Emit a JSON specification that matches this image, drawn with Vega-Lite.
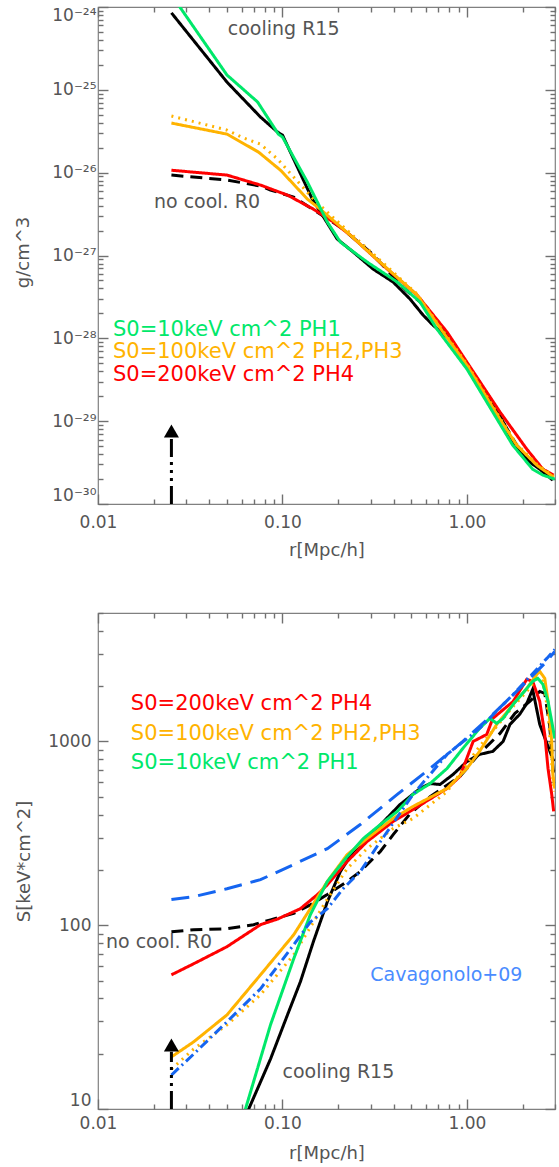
{
  "$schema": "https://vega.github.io/schema/vega-lite/v6.json",
  "padding": {"left": 13, "top": 5, "right": 4, "bottom": 4},
  "spacing": 109,
  "bounds": "flush",
  "config": {
    "view": {"stroke": "#808080", "strokeWidth": 1.2},
    "axis": {"grid": false, "domain": false, "ticks": true, "tickColor": "#707070", "tickOpacity": 1, "tickWidth": 1.4, "zindex": 1, "labelColor": "#555555", "titleColor": "#555555", "labelFont": "DejaVu Sans", "labelFontSize": 17, "titleFont": "DejaVu Sans", "titleFontSize": 18, "titleFontWeight": "normal", "labelOverlap": false, "labelFlush": false},
    "text": {"font": "DejaVu Sans"}
  },
  "datasets": {
    "rho": [
      {"series":"R15","r":0.025,"v":8.5e-25},{"series":"R15","r":0.05,"v":1.24e-25},{"series":"R15","r":0.076,"v":4.69e-26},{"series":"R15","r":0.094,"v":3.09e-26},{"series":"R15","r":0.1,"v":2.84e-26},{"series":"R15","r":0.145,"v":4.8e-27},{"series":"R15","r":0.167,"v":2.91e-27},{"series":"R15","r":0.198,"v":1.58e-27},{"series":"R15","r":0.242,"v":1.1e-27},{"series":"R15","r":0.31,"v":6.85e-28},{"series":"R15","r":0.398,"v":4.78e-28},{"series":"R15","r":0.492,"v":2.97e-28},{"series":"R15","r":0.578,"v":1.91e-28},{"series":"R15","r":0.655,"v":1.44e-28},{"series":"R15","r":0.84,"v":9.0e-29},{"series":"R15","r":1.0,"v":4.74e-29},{"series":"R15","r":1.22,"v":2.43e-29},{"series":"R15","r":1.51,"v":1.18e-29},{"series":"R15","r":1.77,"v":5.57e-30},{"series":"R15","r":2.19,"v":3.2e-30},{"series":"R15","r":2.48,"v":2.63e-30},{"series":"R15","r":2.92,"v":1.94e-30},
      {"series":"R0","r":0.025,"v":9.35e-27},{"series":"R0","r":0.05,"v":8.15e-27},{"series":"R0","r":0.076,"v":6.89e-27},{"series":"R0","r":0.0861,"v":6.17e-27},{"series":"R0","r":0.115,"v":5.07e-27},{"series":"R0","r":0.1545,"v":3.34e-27},{"series":"R0","r":0.206,"v":2.2e-27},{"series":"R0","r":0.299,"v":1.1e-27},{"series":"R0","r":0.37,"v":6.67e-28},{"series":"R0","r":0.451,"v":4.1e-28},{"series":"R0","r":0.557,"v":2.75e-28},{"series":"R0","r":0.688,"v":1.6e-28},{"series":"R0","r":0.84,"v":8.7e-29},{"series":"R0","r":1.0,"v":4.8e-29},{"series":"R0","r":1.17,"v":2.96e-29},{"series":"R0","r":1.57,"v":9.73e-30},{"series":"R0","r":1.86,"v":5.13e-30},{"series":"R0","r":2.27,"v":3.2e-30},{"series":"R0","r":2.71,"v":2.42e-30},{"series":"R0","r":2.92,"v":2.11e-30},
      {"series":"PH4","r":0.025,"v":1.07e-26},{"series":"PH4","r":0.05,"v":9.35e-27},{"series":"PH4","r":0.076,"v":7.08e-27},{"series":"PH4","r":0.1064,"v":5.36e-27},{"series":"PH4","r":0.147,"v":3.63e-27},{"series":"PH4","r":0.189,"v":2.53e-27},{"series":"PH4","r":0.233,"v":1.76e-27},{"series":"PH4","r":0.37,"v":6.85e-28},{"series":"PH4","r":0.537,"v":3.33e-28},{"series":"PH4","r":0.78,"v":1.19e-28},{"series":"PH4","r":1.0,"v":5.15e-29},{"series":"PH4","r":1.51,"v":1.29e-29},{"series":"PH4","r":2.11,"v":4.59e-30},{"series":"PH4","r":2.58,"v":2.63e-30},{"series":"PH4","r":2.95,"v":2.23e-30},
      {"series":"PH3","r":0.025,"v":4.83e-26},{"series":"PH3","r":0.05,"v":3.27e-26},{"series":"PH3","r":0.0615,"v":2.62e-26},{"series":"PH3","r":0.076,"v":2.21e-26},{"series":"PH3","r":0.094,"v":1.46e-26},{"series":"PH3","r":0.115,"v":8.85e-27},{"series":"PH3","r":0.147,"v":4.8e-27},{"series":"PH3","r":0.182,"v":3.08e-27},{"series":"PH3","r":0.233,"v":1.86e-27},{"series":"PH3","r":0.352,"v":8.09e-28},{"series":"PH3","r":0.537,"v":3.42e-28},{"series":"PH3","r":0.742,"v":1.22e-28},{"series":"PH3","r":1.0,"v":4.88e-29},{"series":"PH3","r":1.51,"v":1.09e-29},{"series":"PH3","r":1.86,"v":5.27e-30},{"series":"PH3","r":2.39,"v":3.03e-30},{"series":"PH3","r":2.95,"v":2.17e-30},
      {"series":"PH2","r":0.025,"v":3.97e-26},{"series":"PH2","r":0.05,"v":2.92e-26},{"series":"PH2","r":0.0742,"v":1.77e-26},{"series":"PH2","r":0.0976,"v":1.07e-26},{"series":"PH2","r":0.1365,"v":4.8e-27},{"series":"PH2","r":0.16,"v":3.63e-27},{"series":"PH2","r":0.233,"v":1.76e-27},{"series":"PH2","r":0.352,"v":7.66e-28},{"series":"PH2","r":0.537,"v":3.33e-28},{"series":"PH2","r":0.742,"v":1.19e-28},{"series":"PH2","r":1.0,"v":4.74e-29},{"series":"PH2","r":1.51,"v":1.06e-29},{"series":"PH2","r":1.86,"v":5.13e-30},{"series":"PH2","r":2.39,"v":2.94e-30},{"series":"PH2","r":2.95,"v":2.11e-30},
      {"series":"PH1","r":0.025,"v":1.4e-24},{"series":"PH1","r":0.05,"v":1.51e-25},{"series":"PH1","r":0.0733,"v":7.13e-26},{"series":"PH1","r":0.095,"v":2.92e-26},{"series":"PH1","r":0.1,"v":2.69e-26},{"series":"PH1","r":0.1365,"v":7.69e-27},{"series":"PH1","r":0.1545,"v":4.42e-27},{"series":"PH1","r":0.175,"v":2.53e-27},{"series":"PH1","r":0.206,"v":1.45e-27},{"series":"PH1","r":0.288,"v":8.32e-28},{"series":"PH1","r":0.419,"v":4.78e-28},{"series":"PH1","r":0.557,"v":2.74e-28},{"series":"PH1","r":0.688,"v":1.29e-28},{"series":"PH1","r":1.0,"v":4.25e-29},{"series":"PH1","r":1.38,"v":1.29e-29},{"series":"PH1","r":1.77,"v":5.13e-30},{"series":"PH1","r":2.27,"v":2.63e-30},{"series":"PH1","r":2.58,"v":2.23e-30},{"series":"PH1","r":2.99,"v":2.0e-30}
    ],
    "ent": [
      {"series":"R15","r":0.025,"v":1.2},{"series":"R15","r":0.05,"v":5.4},{"series":"R15","r":0.067,"v":10.5},{"series":"R15","r":0.0861,"v":18.7},{"series":"R15","r":0.1064,"v":32.5},{"series":"R15","r":0.125,"v":49.2},{"series":"R15","r":0.147,"v":81.3},{"series":"R15","r":0.175,"v":134},{"series":"R15","r":0.206,"v":196},{"series":"R15","r":0.242,"v":252},{"series":"R15","r":0.325,"v":336},{"series":"R15","r":0.434,"v":454},{"series":"R15","r":0.557,"v":555},{"series":"R15","r":0.631,"v":590},{"series":"R15","r":0.714,"v":583},{"series":"R15","r":0.84,"v":661},{"series":"R15","r":1.0,"v":778},{"series":"R15","r":1.17,"v":850},{"series":"R15","r":1.38,"v":883},{"series":"R15","r":1.57,"v":1000},{"series":"R15","r":1.71,"v":1238},{"series":"R15","r":1.93,"v":1404},{"series":"R15","r":2.11,"v":1611},{"series":"R15","r":2.27,"v":1920},{"series":"R15","r":2.48,"v":1238},{"series":"R15","r":2.75,"v":940},{"series":"R15","r":2.95,"v":778},
      {"series":"R0","r":0.025,"v":92.2},{"series":"R0","r":0.033,"v":94.5},{"series":"R0","r":0.05,"v":95.7},{"series":"R0","r":0.0697,"v":100.7},{"series":"R0","r":0.0861,"v":107},{"series":"R0","r":0.115,"v":116},{"series":"R0","r":0.1415,"v":129},{"series":"R0","r":0.175,"v":147},{"series":"R0","r":0.224,"v":173},{"series":"R0","r":0.264,"v":196},{"series":"R0","r":0.339,"v":252},{"series":"R0","r":0.398,"v":311},{"series":"R0","r":0.492,"v":405},{"series":"R0","r":0.631,"v":501},{"series":"R0","r":0.916,"v":645},{"series":"R0","r":1.17,"v":861},{"series":"R0","r":1.51,"v":1106},{"series":"R0","r":1.82,"v":1422},{"series":"R0","r":2.19,"v":1652},{"series":"R0","r":2.48,"v":1872},{"series":"R0","r":2.64,"v":1828},{"series":"R0","r":2.81,"v":1208},{"series":"R0","r":2.95,"v":645},
      {"series":"PH4","r":0.025,"v":53.7},{"series":"PH4","r":0.033,"v":61.7},{"series":"PH4","r":0.05,"v":76.4},{"series":"PH4","r":0.076,"v":100.7},{"series":"PH4","r":0.094,"v":108},{"series":"PH4","r":0.125,"v":123},{"series":"PH4","r":0.155,"v":147},{"series":"PH4","r":0.175,"v":166},{"series":"PH4","r":0.224,"v":222},{"series":"PH4","r":0.287,"v":285},{"series":"PH4","r":0.398,"v":367},{"series":"PH4","r":0.51,"v":426},{"series":"PH4","r":0.78,"v":555},{"series":"PH4","r":0.916,"v":645},{"series":"PH4","r":1.08,"v":1000},{"series":"PH4","r":1.28,"v":1092},{"series":"PH4","r":1.38,"v":1335},{"series":"PH4","r":1.78,"v":1652},{"series":"PH4","r":2.11,"v":2179},{"series":"PH4","r":2.27,"v":2124},{"series":"PH4","r":2.48,"v":1652},{"series":"PH4","r":2.64,"v":1092},{"series":"PH4","r":2.75,"v":713},{"series":"PH4","r":2.88,"v":515},{"series":"PH4","r":2.95,"v":416},
      {"series":"PH3","r":0.025,"v":16.5},{"series":"PH3","r":0.033,"v":21.2},{"series":"PH3","r":0.05,"v":28.7},{"series":"PH3","r":0.076,"v":41.8},{"series":"PH3","r":0.115,"v":69},{"series":"PH3","r":0.175,"v":139},{"series":"PH3","r":0.224,"v":203},{"series":"PH3","r":0.287,"v":261},{"series":"PH3","r":0.398,"v":336},{"series":"PH3","r":0.51,"v":381},{"series":"PH3","r":0.78,"v":534},{"series":"PH3","r":1.17,"v":940},{"series":"PH3","r":1.45,"v":1208},{"series":"PH3","r":1.78,"v":1552},{"series":"PH3","r":2.11,"v":1872},{"series":"PH3","r":2.39,"v":2204},{"series":"PH3","r":2.58,"v":2124},{"series":"PH3","r":2.75,"v":1456},{"series":"PH3","r":2.92,"v":629},{"series":"PH3","r":2.99,"v":534},
      {"series":"PH2","r":0.025,"v":19.2},{"series":"PH2","r":0.033,"v":23.2},{"series":"PH2","r":0.05,"v":32.5},{"series":"PH2","r":0.076,"v":53.7},{"series":"PH2","r":0.115,"v":88.7},{"series":"PH2","r":0.1415,"v":123},{"series":"PH2","r":0.175,"v":173},{"series":"PH2","r":0.224,"v":242},{"series":"PH2","r":0.287,"v":296},{"series":"PH2","r":0.398,"v":381},{"series":"PH2","r":0.51,"v":443},{"series":"PH2","r":0.78,"v":555},{"series":"PH2","r":1.0,"v":713},{"series":"PH2","r":1.17,"v":883},{"series":"PH2","r":1.45,"v":1238},{"series":"PH2","r":1.78,"v":1592},{"series":"PH2","r":2.11,"v":1944},{"series":"PH2","r":2.39,"v":2317},{"series":"PH2","r":2.48,"v":2405},{"series":"PH2","r":2.64,"v":2204},{"series":"PH2","r":2.75,"v":1652},{"series":"PH2","r":2.88,"v":1000},{"series":"PH2","r":2.92,"v":661},{"series":"PH2","r":2.99,"v":555},
      {"series":"PH1","r":0.025,"v":0.5},{"series":"PH1","r":0.05,"v":4.6},{"series":"PH1","r":0.063,"v":10},{"series":"PH1","r":0.0861,"v":28.7},{"series":"PH1","r":0.115,"v":65.6},{"series":"PH1","r":0.1415,"v":114},{"series":"PH1","r":0.175,"v":173},{"series":"PH1","r":0.224,"v":236},{"series":"PH1","r":0.274,"v":296},{"series":"PH1","r":0.339,"v":353},{"series":"PH1","r":0.419,"v":416},{"series":"PH1","r":0.51,"v":515},{"series":"PH1","r":0.631,"v":590},{"series":"PH1","r":0.78,"v":713},{"series":"PH1","r":0.95,"v":917},{"series":"PH1","r":1.17,"v":1177},{"series":"PH1","r":1.33,"v":1335},{"series":"PH1","r":1.45,"v":1254},{"series":"PH1","r":1.57,"v":1335},{"series":"PH1","r":1.78,"v":1592},{"series":"PH1","r":2.11,"v":1944},{"series":"PH1","r":2.27,"v":2124},{"series":"PH1","r":2.42,"v":2204},{"series":"PH1","r":2.58,"v":2045},{"series":"PH1","r":2.75,"v":1652},{"series":"PH1","r":2.88,"v":1285},{"series":"PH1","r":2.99,"v":1038},
      {"series":"Cav_fit","r":0.025,"v":138},{"series":"Cav_fit","r":0.033,"v":143},{"series":"Cav_fit","r":0.05,"v":158},{"series":"Cav_fit","r":0.076,"v":177},{"series":"Cav_fit","r":0.115,"v":214},{"series":"Cav_fit","r":0.175,"v":261},{"series":"Cav_fit","r":0.264,"v":353},{"series":"Cav_fit","r":0.419,"v":515},{"series":"Cav_fit","r":0.631,"v":713},{"series":"Cav_fit","r":0.95,"v":1000},{"series":"Cav_fit","r":1.38,"v":1404},{"series":"Cav_fit","r":1.93,"v":1944},{"series":"Cav_fit","r":2.71,"v":2729},{"series":"Cav_fit","r":2.99,"v":3093},
      {"series":"Cav_data","r":0.025,"v":15.3},{"series":"Cav_data","r":0.033,"v":19.9},{"series":"Cav_data","r":0.05,"v":29.8},{"series":"Cav_data","r":0.076,"v":45.1},{"series":"Cav_data","r":0.115,"v":78.3},{"series":"Cav_data","r":0.1415,"v":104},{"series":"Cav_data","r":0.175,"v":123},{"series":"Cav_data","r":0.213,"v":158},{"series":"Cav_data","r":0.264,"v":196},{"series":"Cav_data","r":0.339,"v":285},{"series":"Cav_data","r":0.51,"v":515},{"series":"Cav_data","r":0.78,"v":850},{"series":"Cav_data","r":1.17,"v":1177},{"series":"Cav_data","r":1.78,"v":1803},{"series":"Cav_data","r":2.71,"v":2832},{"series":"Cav_data","r":2.99,"v":3170}
    ],
    "topLegend": [
      {"series":"PH1","r":0.01205,"v":1.26e-28,"label":"S0=10keV cm^2 PH1"},
      {"series":"PH2","r":0.01205,"v":6.81e-29,"label":"S0=100keV cm^2 PH2,PH3"},
      {"series":"PH4","r":0.01205,"v":3.65e-29,"label":"S0=200keV cm^2 PH4"}
    ],
    "topNotes": [
      {"series":"note","r":0.0505,"v":5.42e-25,"label":"cooling R15"},
      {"series":"note","r":0.0201,"v":4.42e-27,"label":"no cool. R0"}
    ],
    "botLegend": [
      {"series":"PH4","r":0.01507,"v":1592,"label":"S0=200keV cm^2 PH4"},
      {"series":"PH2","r":0.01507,"v":1092,"label":"S0=100keV cm^2 PH2,PH3"},
      {"series":"PH1","r":0.01507,"v":759,"label":"S0=10keV cm^2 PH1"}
    ],
    "botNotes": [
      {"series":"note","r":0.01104,"v":81.3,"label":"no cool. R0"},
      {"series":"note","r":0.1,"v":15.9,"label":"cooling R15"},
      {"series":"Cav_text","r":0.299,"v":53.7,"label":"Cavagonolo+09"}
    ],
    "topArrow": [{"r":0.025,"v":1e-30,"v2":6.2e-30,"tip":7.6e-30}],
    "botArrow": [{"r":0.025,"v":10,"v2":20.5,"tip":22.3}]
  },
  "vconcat": [
    {
      "width": 457, "height": 497,
      "layer": [
        {
          "data": {"name": "rho"},
          "mark": {"type": "line", "strokeWidth": 3, "clip": true},
          "encoding": {
            "x": {"field": "r", "type": "quantitative", "scale": {"type": "log", "domain": [0.01, 3], "nice": false},
              "axis": {"orient": "bottom", "values": [0.01, 0.1, 1], "format": ".2f", "offset": -10, "tickSize": 10,
                "labelPadding": 10, "title": "r[Mpc/h]", "titleX": 228.5, "titleY": 56, "titleBaseline": "middle"}},
            "y": {"field": "v", "type": "quantitative", "scale": {"type": "log", "domain": [1e-30, 1e-24], "nice": false},
              "axis": {"orient": "left", "values": [1e-30, 1e-29, 1e-28, 1e-27, 1e-26, 1e-25, 1e-24],
                "labelExpr": "['10⁻³⁰','10⁻²⁹','10⁻²⁸','10⁻²⁷','10⁻²⁶','10⁻²⁵','10⁻²⁴'][round(log(datum.value) / LN10) + 30]",
                "offset": -10, "tickSize": 10, "labelPadding": 2, "labelFlush": true, "title": "g/cm^3", "titleX": -85, "titleY": 245, "titleBaseline": "middle"}},
            "color": {"field": "series", "type": "nominal", "legend": null,
              "scale": {"domain": ["R15","R0","PH1","PH2","PH3","PH4","Cav_fit","Cav_data","note","Cav_text"], "range": ["#000000","#000000","#00e86a","#ffb300","#ffb300","#ff0000","#1565f0","#1565f0","#555555","#4a8cff"]}},
            "strokeDash": {"field": "series", "type": "nominal", "legend": null,
              "scale": {"domain": ["R15","R0","PH1","PH2","PH3","PH4","Cav_fit","Cav_data"], "range": [[1,0],[12,7],[1,0],[1,0],[2,5],[1,0],[18,9],[10,4,2,4]]}}
          }
        },
        {
          "data": {"name": "topLegend"},
          "mark": {"type": "text", "align": "left", "baseline": "middle", "fontSize": 21},
          "encoding": {
            "x": {"field": "r", "type": "quantitative", "scale": {"type": "log", "domain": [0.01, 3], "nice": false},
              "axis": {"orient": "top", "values": [0.01, 0.1, 1], "labels": false, "title": null, "offset": -10, "tickSize": 10}},
            "y": {"field": "v", "type": "quantitative", "scale": {"type": "log", "domain": [1e-30, 1e-24], "nice": false},
              "axis": {"orient": "right", "values": [1e-30, 1e-29, 1e-28, 1e-27, 1e-26, 1e-25, 1e-24], "labels": false, "title": null, "offset": -10, "tickSize": 10}},
            "text": {"field": "label"},
            "color": {"field": "series", "type": "nominal", "legend": null,
              "scale": {"domain": ["R15","R0","PH1","PH2","PH3","PH4","Cav_fit","Cav_data","note","Cav_text"], "range": ["#000000","#000000","#00e86a","#ffb300","#ffb300","#ff0000","#1565f0","#1565f0","#555555","#4a8cff"]}}
          }
        },
        {
          "data": {"name": "topNotes"},
          "mark": {"type": "text", "align": "left", "baseline": "middle", "fontSize": 19},
          "encoding": {
            "x": {"field": "r", "type": "quantitative", "scale": {"type": "log", "domain": [0.01, 3], "nice": false},
              "axis": {"orient": "bottom", "values": [0.02,0.03,0.04,0.05,0.06,0.07,0.08,0.09,0.2,0.3,0.4,0.5,0.6,0.7,0.8,0.9,2,3], "labels": false, "title": null, "offset": -5, "tickSize": 5}},
            "y": {"field": "v", "type": "quantitative", "scale": {"type": "log", "domain": [1e-30, 1e-24], "nice": false},
              "axis": {"orient": "left", "values": [2e-30,3e-30,4e-30,5e-30,6e-30,7e-30,8e-30,9e-30,2e-29,3e-29,4e-29,5e-29,6e-29,7e-29,8e-29,9e-29,2e-28,3e-28,4e-28,5e-28,6e-28,7e-28,8e-28,9e-28,2e-27,3e-27,4e-27,5e-27,6e-27,7e-27,8e-27,9e-27,2e-26,3e-26,4e-26,5e-26,6e-26,7e-26,8e-26,9e-26,2e-25,3e-25,4e-25,5e-25,6e-25,7e-25,8e-25,9e-25], "labels": false, "title": null, "offset": -5, "tickSize": 5}},
            "text": {"field": "label"},
            "color": {"field": "series", "type": "nominal", "legend": null}
          }
        },
        {
          "data": {"name": "topArrow"},
          "mark": {"type": "rule", "strokeWidth": 3, "strokeDash": [18,5,3,5,3,5,3,5], "color": "#000000"},
          "encoding": {
            "x": {"field": "r", "type": "quantitative", "scale": {"type": "log", "domain": [0.01, 3], "nice": false},
              "axis": {"orient": "top", "values": [0.02,0.03,0.04,0.05,0.06,0.07,0.08,0.09,0.2,0.3,0.4,0.5,0.6,0.7,0.8,0.9,2,3], "labels": false, "title": null, "offset": -5, "tickSize": 5}},
            "y": {"field": "v", "type": "quantitative", "scale": {"type": "log", "domain": [1e-30, 1e-24], "nice": false},
              "axis": {"orient": "right", "values": [2e-30,3e-30,4e-30,5e-30,6e-30,7e-30,8e-30,9e-30,2e-29,3e-29,4e-29,5e-29,6e-29,7e-29,8e-29,9e-29,2e-28,3e-28,4e-28,5e-28,6e-28,7e-28,8e-28,9e-28,2e-27,3e-27,4e-27,5e-27,6e-27,7e-27,8e-27,9e-27,2e-26,3e-26,4e-26,5e-26,6e-26,7e-26,8e-26,9e-26,2e-25,3e-25,4e-25,5e-25,6e-25,7e-25,8e-25,9e-25], "labels": false, "title": null, "offset": -5, "tickSize": 5}},
            "y2": {"field": "v2"}
          }
        },
        {
          "data": {"name": "topArrow"},
          "mark": {"type": "point", "shape": "triangle-up", "size": 225, "filled": true, "color": "#000000", "opacity": 1},
          "encoding": {
            "x": {"field": "r", "type": "quantitative", "axis": null},
            "y": {"field": "tip", "type": "quantitative", "axis": null}
          }
        }
      ],
      "resolve": {"axis": {"x": "independent", "y": "independent"}}
    },
    {
      "width": 457, "height": 496,
      "layer": [
        {
          "data": {"name": "ent"},
          "mark": {"type": "line", "strokeWidth": 3, "clip": true},
          "encoding": {
            "x": {"field": "r", "type": "quantitative", "scale": {"type": "log", "domain": [0.01, 3], "nice": false},
              "axis": {"orient": "bottom", "values": [0.01, 0.1, 1], "format": ".2f", "offset": -10, "tickSize": 10,
                "labelPadding": 6, "title": "r[Mpc/h]", "titleX": 228.5, "titleY": 54, "titleBaseline": "middle"}},
            "y": {"field": "v", "type": "quantitative", "scale": {"type": "log", "domain": [10, 5000], "nice": false},
              "axis": {"orient": "left", "values": [10, 100, 1000], "format": "d", "offset": -10,
                "tickSize": 10, "labelPadding": 7, "labelFlush": true, "title": "S[keV*cm^2]", "titleX": -84, "titleY": 248, "titleBaseline": "middle"}},
            "color": {"field": "series", "type": "nominal", "legend": null,
              "scale": {"domain": ["R15","R0","PH1","PH2","PH3","PH4","Cav_fit","Cav_data","note","Cav_text"], "range": ["#000000","#000000","#00e86a","#ffb300","#ffb300","#ff0000","#1565f0","#1565f0","#555555","#4a8cff"]}},
            "strokeDash": {"field": "series", "type": "nominal", "legend": null,
              "scale": {"domain": ["R15","R0","PH1","PH2","PH3","PH4","Cav_fit","Cav_data"], "range": [[1,0],[12,7],[1,0],[1,0],[2,5],[1,0],[18,9],[10,4,2,4]]}}
          }
        },
        {
          "data": {"name": "botLegend"},
          "mark": {"type": "text", "align": "left", "baseline": "middle", "fontSize": 21},
          "encoding": {
            "x": {"field": "r", "type": "quantitative", "scale": {"type": "log", "domain": [0.01, 3], "nice": false},
              "axis": {"orient": "top", "values": [0.01, 0.1, 1], "labels": false, "title": null, "offset": -10, "tickSize": 10}},
            "y": {"field": "v", "type": "quantitative", "scale": {"type": "log", "domain": [10, 5000], "nice": false},
              "axis": {"orient": "right", "values": [10, 100, 1000], "labels": false, "title": null, "offset": -10, "tickSize": 10}},
            "text": {"field": "label"},
            "color": {"field": "series", "type": "nominal", "legend": null,
              "scale": {"domain": ["R15","R0","PH1","PH2","PH3","PH4","Cav_fit","Cav_data","note","Cav_text"], "range": ["#000000","#000000","#00e86a","#ffb300","#ffb300","#ff0000","#1565f0","#1565f0","#555555","#4a8cff"]}}
          }
        },
        {
          "data": {"name": "botNotes"},
          "mark": {"type": "text", "align": "left", "baseline": "middle", "fontSize": 19},
          "encoding": {
            "x": {"field": "r", "type": "quantitative", "scale": {"type": "log", "domain": [0.01, 3], "nice": false},
              "axis": {"orient": "bottom", "values": [0.02,0.03,0.04,0.05,0.06,0.07,0.08,0.09,0.2,0.3,0.4,0.5,0.6,0.7,0.8,0.9,2,3], "labels": false, "title": null, "offset": -5, "tickSize": 5}},
            "y": {"field": "v", "type": "quantitative", "scale": {"type": "log", "domain": [10, 5000], "nice": false},
              "axis": {"orient": "left", "values": [20,30,40,50,60,70,80,90,200,300,400,500,600,700,800,900,2000,3000,4000,5000], "labels": false, "title": null, "offset": -5, "tickSize": 5}},
            "text": {"field": "label"},
            "color": {"field": "series", "type": "nominal", "legend": null}
          }
        },
        {
          "data": {"name": "botArrow"},
          "mark": {"type": "rule", "strokeWidth": 3, "strokeDash": [18,5,3,5,3,5,3,5], "color": "#000000"},
          "encoding": {
            "x": {"field": "r", "type": "quantitative", "scale": {"type": "log", "domain": [0.01, 3], "nice": false},
              "axis": {"orient": "top", "values": [0.02,0.03,0.04,0.05,0.06,0.07,0.08,0.09,0.2,0.3,0.4,0.5,0.6,0.7,0.8,0.9,2,3], "labels": false, "title": null, "offset": -5, "tickSize": 5}},
            "y": {"field": "v", "type": "quantitative", "scale": {"type": "log", "domain": [10, 5000], "nice": false},
              "axis": {"orient": "right", "values": [20,30,40,50,60,70,80,90,200,300,400,500,600,700,800,900,2000,3000,4000,5000], "labels": false, "title": null, "offset": -5, "tickSize": 5}},
            "y2": {"field": "v2"}
          }
        },
        {
          "data": {"name": "botArrow"},
          "mark": {"type": "point", "shape": "triangle-up", "size": 225, "filled": true, "color": "#000000", "opacity": 1},
          "encoding": {
            "x": {"field": "r", "type": "quantitative", "axis": null},
            "y": {"field": "tip", "type": "quantitative", "axis": null}
          }
        }
      ],
      "resolve": {"axis": {"x": "independent", "y": "independent"}}
    }
  ]
}
